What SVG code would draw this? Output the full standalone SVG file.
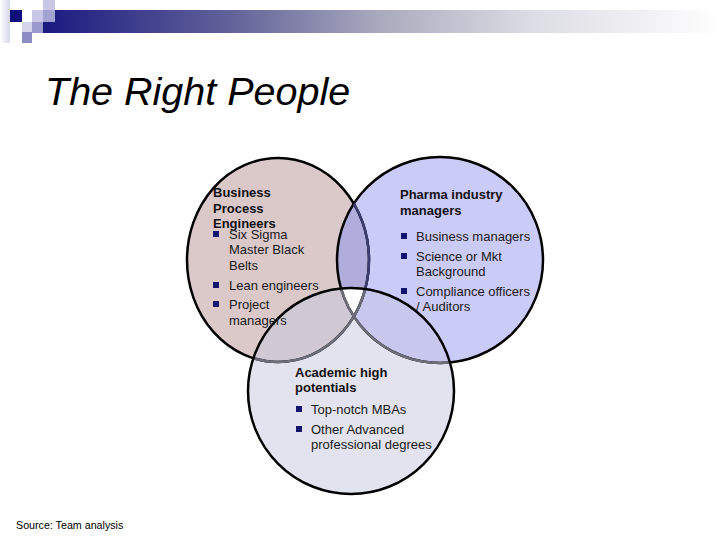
<svg xmlns="http://www.w3.org/2000/svg" width="720" height="540" viewBox="0 0 720 540">
<defs>
<linearGradient id="barGrad" x1="0" y1="0" x2="1" y2="0">
<stop offset="0" stop-color="#1a1a80"/>
<stop offset="0.28" stop-color="#63639a"/>
<stop offset="0.5" stop-color="#aaaabe"/>
<stop offset="0.72" stop-color="#dcdce4"/>
<stop offset="1" stop-color="#ffffff"/>
</linearGradient>
<linearGradient id="leftGrad" x1="0" y1="0" x2="1" y2="0">
<stop offset="0" stop-color="#ffffff"/>
<stop offset="1" stop-color="#d6d6ec"/>
</linearGradient>
<clipPath id="cPink"><ellipse cx="278" cy="260" rx="91" ry="102"/></clipPath>
<clipPath id="cBlue"><circle cx="440" cy="260" r="103"/></clipPath>
<clipPath id="cBottom"><ellipse cx="351" cy="391" rx="103" ry="103"/></clipPath>
<style>
.edge{fill:none;stroke:#000;stroke-width:2.5}
.inner{fill:none;stroke:#6e6e7a;stroke-width:2.5}
.innerB{fill:none;stroke:#3c3c70;stroke-width:2.5}
.hd{font-family:"Liberation Sans",Arial,sans-serif;font-size:13px;font-weight:bold;fill:#111}
.tx{font-family:"Liberation Sans",Arial,sans-serif;font-size:13px;fill:#1a1a1a}
.bul{fill:#14146e}
</style>
</defs>
<rect width="720" height="540" fill="#ffffff"/>
<g id="header">
<rect x="0" y="0" width="10" height="43" fill="url(#leftGrad)"/>
<rect x="43" y="10" width="677" height="23" fill="url(#barGrad)"/>
<rect x="10" y="10" width="12" height="12" fill="#10107a"/>
<rect x="32" y="10" width="11" height="12" fill="#c8c8e6"/>
<rect x="43" y="0" width="12" height="10" fill="#c8c8e4"/>
<rect x="43" y="10" width="12" height="12" fill="#a2a2d2"/>
<rect x="22" y="22" width="10" height="10" fill="#d4d4ea"/>
<rect x="32" y="22" width="11" height="11" fill="#9a9acc"/>
<rect x="22" y="32" width="10" height="11" fill="#8c8cc4"/>
</g>
<text x="45" y="105" font-family="'Liberation Sans',Arial,sans-serif" font-size="39.5" font-style="italic" fill="#000">The Right People</text>
<g id="fills">
<ellipse cx="278" cy="260" rx="91" ry="102" fill="#dbc9ca"/>
<circle cx="440" cy="260" r="103" fill="#cbcbf8"/>
<g clip-path="url(#cPink)"><circle cx="440" cy="260" r="103" fill="#b0acdb"/></g>
<ellipse cx="351" cy="391" rx="103" ry="103" fill="#e3e3ef"/>
<g clip-path="url(#cBottom)">
<ellipse cx="278" cy="260" rx="91" ry="102" fill="#d0c9d4"/>
<circle cx="440" cy="260" r="103" fill="#c8c8ee"/>
<g clip-path="url(#cPink)"><circle cx="440" cy="260" r="103" fill="#ffffff"/></g>
</g>
</g>
<g id="outlines">
<ellipse class="edge" cx="278" cy="260" rx="91" ry="102"/>
<circle class="edge" cx="440" cy="260" r="103"/>
<g clip-path="url(#cBlue)"><ellipse class="innerB" cx="278" cy="260" rx="91" ry="102"/></g>
<g clip-path="url(#cBottom)">
<ellipse class="inner" cx="278" cy="260" rx="91" ry="102"/>
<circle class="inner" cx="440" cy="260" r="103"/>
</g>
<ellipse class="edge" cx="351" cy="391" rx="103" ry="103"/>
</g>
<g id="node-business-process">
<text class="hd" x="213" y="197">Business</text>
<text class="hd" x="213" y="213">Process</text>
<text class="hd" x="213" y="228">Engineers</text>
<rect class="bul" x="213" y="231" width="6" height="6"/>
<text class="tx" x="229" y="239">Six Sigma</text>
<text class="tx" x="229" y="254">Master Black</text>
<text class="tx" x="229" y="270">Belts</text>
<rect class="bul" x="213" y="282" width="6" height="6"/>
<text class="tx" x="229" y="290">Lean engineers</text>
<rect class="bul" x="213" y="301" width="6" height="6"/>
<text class="tx" x="229" y="309">Project</text>
<text class="tx" x="229" y="325">managers</text>
</g>
<g id="node-pharma">
<text class="hd" x="400" y="199">Pharma industry</text>
<text class="hd" x="400" y="215">managers</text>
<rect class="bul" x="401" y="233" width="6" height="6"/>
<text class="tx" x="416" y="241">Business managers</text>
<rect class="bul" x="401" y="253" width="6" height="6"/>
<text class="tx" x="416" y="261">Science or Mkt</text>
<text class="tx" x="416" y="276">Background</text>
<rect class="bul" x="401" y="288" width="6" height="6"/>
<text class="tx" x="416" y="296">Compliance officers</text>
<text class="tx" x="416" y="311">/ Auditors</text>
</g>
<g id="node-academic">
<text class="hd" x="295" y="377">Academic high</text>
<text class="hd" x="295" y="392">potentials</text>
<rect class="bul" x="296" y="406" width="6" height="6"/>
<text class="tx" x="311" y="414">Top-notch MBAs</text>
<rect class="bul" x="296" y="426" width="6" height="6"/>
<text class="tx" x="311" y="434">Other Advanced</text>
<text class="tx" x="311" y="449">professional degrees</text>
</g>
<g id="connectors"/>
<text x="16" y="529" font-family="'Liberation Sans',Arial,sans-serif" font-size="10.7" fill="#000">Source: Team analysis</text>
</svg>
